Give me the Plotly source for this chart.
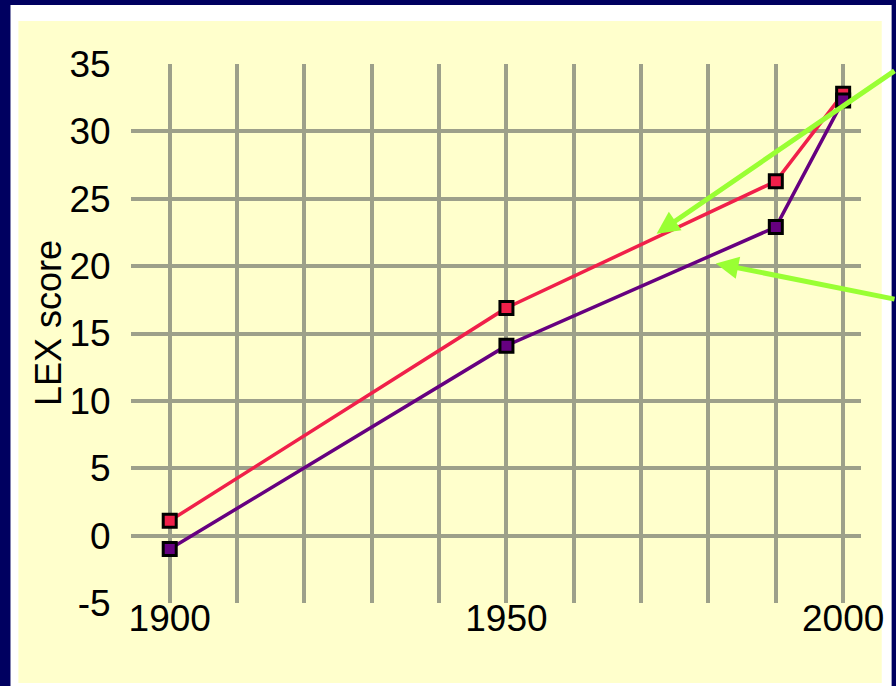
import plotly.graph_objects as go

# ---- data ----
years = [1900, 1950, 1990, 2000]
red_scores = [1.1, 16.9, 26.3, 32.8]
purple_scores = [-1.0, 14.1, 22.9, 32.3]

x_tick_vals = [1900, 1910, 1920, 1930, 1940, 1950, 1960, 1970, 1980, 1990, 2000]
x_tick_text = ["1900", "", "", "", "", "1950", "", "", "", "", "2000"]
y_tick_vals = [-5, 0, 5, 10, 15, 20, 25, 30, 35]
y_tick_text = ["-5", "0", "5", "10", "15", "20", "25", "30", "35"]

# arrow tips (data coords)
arrow_tips_x = [1972.3, 1981.1]
arrow_tips_y = [22.4, 20.2]

# ---- layout geometry ----
W, H = 896, 686
L, R, T, B = 131, 870, 64, 603
pw, ph = R - L, B - T


def px_to_paper_x(px):
    return (px - L) / pw


def px_to_paper_y(py):
    return (B - py) / ph


NAVY = "#000060"
YELLOW = "#FFFFCC"
GRID = "#9DA08A"
RED = "#F0204A"
PURPLE = "#660080"
GREEN = "#99FF33"
FONT = "Liberation Sans, Arial, sans-serif"

fig = go.Figure()

fig.add_trace(go.Scatter(
    x=years, y=red_scores, mode="lines+markers",
    line=dict(color=RED, width=3.5),
    marker=dict(symbol="square", size=13, color=RED, line=dict(color="black", width=3)),
    showlegend=False, cliponaxis=False,
))
fig.add_trace(go.Scatter(
    x=years, y=purple_scores, mode="lines+markers",
    line=dict(color=PURPLE, width=3.5),
    marker=dict(symbol="square", size=13, color=PURPLE, line=dict(color="black", width=3)),
    showlegend=False, cliponaxis=False,
))

shapes = [
    dict(type="rect", xref="paper", yref="paper", layer="below",
         x0=px_to_paper_x(9), x1=px_to_paper_x(W + 5),
         y0=px_to_paper_y(H + 5), y1=px_to_paper_y(5),
         fillcolor="white", line=dict(width=0)),
    dict(type="rect", xref="paper", yref="paper", layer="below",
         x0=px_to_paper_x(17), x1=px_to_paper_x(891),
         y0=px_to_paper_y(683), y1=px_to_paper_y(21),
         fillcolor=YELLOW, line=dict(width=0)),
]

annotations = [
    dict(text="LEX score", xref="paper", yref="paper",
         x=px_to_paper_x(47), y=px_to_paper_y(323),
         xanchor="center", yanchor="middle", textangle=-90,
         showarrow=False, font=dict(family=FONT, size=36, color="black")),
    dict(text="", x=arrow_tips_x[0], y=arrow_tips_y[0], xref="x", yref="y",
         showarrow=True, ax=250, ay=-164, arrowhead=2, arrowsize=0.9,
         arrowwidth=5, arrowcolor=GREEN, standoff=0),
    dict(text="", x=arrow_tips_x[1], y=arrow_tips_y[1], xref="x", yref="y",
         showarrow=True, ax=190, ay=36, arrowhead=2, arrowsize=0.9,
         arrowwidth=5, arrowcolor=GREEN, standoff=0),
]

fig.update_layout(
    width=W, height=H,
    margin=dict(l=L, r=W - R, t=T, b=H - B, pad=0),
    paper_bgcolor=NAVY,
    plot_bgcolor="rgba(0,0,0,0)",
    font=dict(family=FONT, size=37, color="black"),
    shapes=shapes,
    annotations=annotations,
    showlegend=False,
    xaxis=dict(
        range=[1894.25, 2002.65],
        tickmode="array", tickvals=x_tick_vals, ticktext=x_tick_text,
        showgrid=True, gridcolor=GRID, gridwidth=3.5,
        zeroline=False, showline=False,
        ticks="", ticklabelstandoff=-10,
        tickfont=dict(family=FONT, size=37, color="black"),
        fixedrange=True,
    ),
    yaxis=dict(
        range=[-5, 35],
        tickmode="array", tickvals=y_tick_vals, ticktext=y_tick_text,
        showgrid=True, gridcolor=GRID, gridwidth=3.5,
        zeroline=False, showline=False,
        ticks="outside", ticklen=12, tickcolor="rgba(0,0,0,0)",
        tickfont=dict(family=FONT, size=37, color="black"),
        fixedrange=True,
    ),
)

fig.write_html(
    "out.html",
    config={"displayModeBar": False},
    post_script="document.body.style.margin='0';document.body.style.padding='0';"
                "document.body.style.overflow='hidden';",
)
